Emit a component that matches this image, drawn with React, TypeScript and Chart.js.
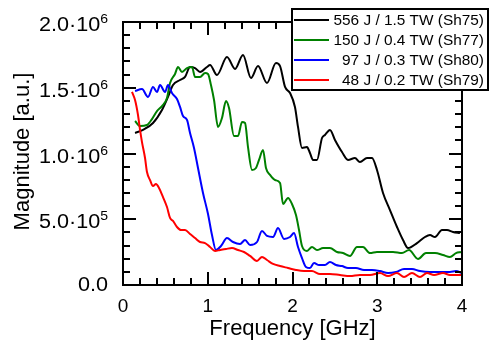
import React, { useEffect, useRef } from "react";
import { Chart, registerables } from "chart.js";

Chart.register(...registerables);

// ---- Data (magnitude in units of 10^6 a.u., frequency in GHz) ----
const sh75Freq = [0.142, 0.236, 0.354, 0.46, 0.531, 0.59, 0.673, 0.732, 0.791, 0.85, 0.909, 0.991, 1.027, 1.109, 1.227, 1.322, 1.416, 1.51, 1.593, 1.699, 1.805, 1.853, 1.912, 1.971, 2.029, 2.065, 2.112, 2.171, 2.206, 2.242, 2.289, 2.348, 2.383, 2.442, 2.501, 2.584, 2.655, 2.737, 2.796, 2.879, 2.938, 2.997, 3.068, 3.15, 3.233, 3.304, 3.363, 3.469, 3.563, 3.622, 3.681, 3.764, 3.823, 3.894, 3.976];
const sh75Mag = [1.156, 1.179, 1.232, 1.331, 1.43, 1.521, 1.559, 1.582, 1.658, 1.65, 1.62, 1.658, 1.673, 1.597, 1.734, 1.643, 1.749, 1.574, 1.665, 1.536, 1.688, 1.665, 1.506, 1.46, 1.354, 1.202, 1.042, 1.049, 1.004, 0.951, 0.951, 1.118, 1.141, 1.179, 1.103, 1.011, 0.951, 0.966, 0.935, 0.966, 0.966, 0.875, 0.7, 0.57, 0.441, 0.342, 0.281, 0.319, 0.365, 0.38, 0.365, 0.418, 0.418, 0.403, 0.395];

const sh77Freq = [0.142, 0.201, 0.283, 0.342, 0.401, 0.46, 0.519, 0.555, 0.614, 0.649, 0.696, 0.755, 0.814, 0.85, 0.909, 0.968, 1.003, 1.038, 1.074, 1.121, 1.168, 1.215, 1.251, 1.31, 1.357, 1.404, 1.44, 1.475, 1.522, 1.569, 1.605, 1.652, 1.687, 1.735, 1.794, 1.853, 1.888, 1.947, 1.994, 2.041, 2.077, 2.112, 2.171, 2.23, 2.289, 2.36, 2.442, 2.525, 2.596, 2.678, 2.761, 2.832, 2.914, 2.997, 3.091, 3.186, 3.292, 3.375, 3.481, 3.575, 3.681, 3.776, 3.858, 3.929, 3.988];
const sh77Mag = [1.247, 1.209, 1.217, 1.262, 1.323, 1.361, 1.422, 1.536, 1.605, 1.658, 1.62, 1.65, 1.658, 1.582, 1.582, 1.612, 1.605, 1.521, 1.407, 1.202, 1.27, 1.399, 1.346, 1.133, 1.133, 1.24, 1.232, 1.049, 0.875, 0.89, 0.951, 1.027, 0.89, 0.837, 0.798, 0.776, 0.616, 0.662, 0.616, 0.532, 0.418, 0.297, 0.259, 0.289, 0.266, 0.281, 0.281, 0.251, 0.243, 0.221, 0.289, 0.289, 0.243, 0.251, 0.251, 0.251, 0.243, 0.266, 0.198, 0.243, 0.243, 0.228, 0.213, 0.243, 0.251];

const sh80Freq = [0.142, 0.224, 0.295, 0.354, 0.401, 0.437, 0.496, 0.531, 0.578, 0.637, 0.673, 0.708, 0.755, 0.791, 0.838, 0.885, 0.944, 1.003, 1.05, 1.097, 1.156, 1.227, 1.298, 1.381, 1.44, 1.499, 1.581, 1.64, 1.699, 1.77, 1.829, 1.9, 1.971, 2.018, 2.065, 2.112, 2.159, 2.206, 2.254, 2.313, 2.383, 2.442, 2.513, 2.584, 2.655, 2.749, 2.844, 2.938, 3.032, 3.127, 3.221, 3.316, 3.41, 3.504, 3.622, 3.74, 3.858, 3.929, 4.0];
const sh80Mag = [1.475, 1.49, 1.43, 1.506, 1.468, 1.521, 1.468, 1.521, 1.46, 1.414, 1.354, 1.285, 1.255, 1.156, 1.042, 0.89, 0.7, 0.54, 0.38, 0.266, 0.297, 0.357, 0.327, 0.312, 0.342, 0.304, 0.327, 0.411, 0.373, 0.365, 0.433, 0.35, 0.365, 0.395, 0.289, 0.205, 0.137, 0.129, 0.167, 0.152, 0.152, 0.175, 0.152, 0.144, 0.129, 0.129, 0.114, 0.114, 0.106, 0.091, 0.099, 0.122, 0.122, 0.106, 0.099, 0.099, 0.099, 0.106, 0.091];

const sh79Freq = [0.106, 0.142, 0.177, 0.201, 0.224, 0.26, 0.283, 0.319, 0.354, 0.389, 0.425, 0.472, 0.519, 0.555, 0.59, 0.637, 0.684, 0.732, 0.791, 0.85, 0.909, 0.968, 1.027, 1.086, 1.145, 1.215, 1.286, 1.357, 1.428, 1.499, 1.581, 1.64, 1.699, 1.77, 1.853, 1.947, 2.041, 2.136, 2.23, 2.324, 2.442, 2.56, 2.678, 2.796, 2.914, 3.032, 3.127, 3.233, 3.316, 3.41, 3.504, 3.587, 3.67, 3.776, 3.858, 4.0];
const sh79Mag = [1.468, 1.407, 1.293, 1.179, 1.087, 0.966, 0.859, 0.798, 0.753, 0.768, 0.738, 0.669, 0.593, 0.51, 0.487, 0.441, 0.418, 0.418, 0.388, 0.357, 0.327, 0.319, 0.289, 0.259, 0.266, 0.274, 0.281, 0.266, 0.251, 0.221, 0.183, 0.213, 0.19, 0.16, 0.144, 0.129, 0.114, 0.106, 0.106, 0.084, 0.084, 0.076, 0.068, 0.076, 0.076, 0.091, 0.068, 0.091, 0.061, 0.091, 0.061, 0.091, 0.076, 0.091, 0.076, 0.076];

const legendLabels = [
  "556 J / 1.5 TW (Sh75)",
  "150 J / 0.4 TW (Sh77)",
  "97 J / 0.3 TW (Sh80)",
  "48 J / 0.2 TW (Sh79)",
];
const seriesColors = ["#000000", "#008000", "#0000ff", "#ff0000"];

const xTickValues = [0, 1, 2, 3, 4];
const xTickLabels = ["0", "1", "2", "3", "4"];
const yTickValues = [0, 0.5, 1, 1.5, 2];
const yTickMantissa = ["0.0", "5.0·10", "1.0·10", "1.5·10", "2.0·10"];
const yTickExponent = ["", "5", "6", "6", "6"];

const xTitle = "Frequency [GHz]";
const yTitle = "Magnitude [a.u.]";

const FONT = '"Liberation Sans", Arial, sans-serif';

const decorPlugin = {
  id: "decor",
  afterDraw(chart: any) {
    const ctx = chart.ctx as CanvasRenderingContext2D;
    const a = chart.chartArea;
    const xs = chart.scales.x;
    const ys = chart.scales.y;
    ctx.save();
    ctx.strokeStyle = "#000";
    ctx.fillStyle = "#000";
    ctx.lineWidth = 2;
    ctx.lineCap = "butt";

    // Inward ticks on all four sides
    const yMinor = 20;
    for (let i = 0; i <= yMinor; i++) {
      const v = (2 * i) / yMinor;
      const py = Math.round(ys.getPixelForValue(v));
      const len = i % 5 === 0 ? 13 : 7;
      ctx.beginPath();
      ctx.moveTo(a.left, py);
      ctx.lineTo(a.left + len, py);
      ctx.moveTo(a.right, py);
      ctx.lineTo(a.right - len, py);
      ctx.stroke();
    }
    const xMinor = 20;
    for (let i = 0; i <= xMinor; i++) {
      const v = (4 * i) / xMinor;
      const px = Math.round(xs.getPixelForValue(v));
      const len = i % 5 === 0 ? 13 : 7;
      ctx.beginPath();
      ctx.moveTo(px, a.bottom);
      ctx.lineTo(px, a.bottom - len);
      ctx.moveTo(px, a.top);
      ctx.lineTo(px, a.top + len);
      ctx.stroke();
    }
    // Frame
    ctx.strokeRect(a.left, a.top, a.right - a.left, a.bottom - a.top);

    // X tick labels
    ctx.font = `19px ${FONT}`;
    ctx.textAlign = "center";
    ctx.textBaseline = "alphabetic";
    xTickValues.forEach((v, i) => {
      ctx.fillText(xTickLabels[i], xs.getPixelForValue(v), a.bottom + 27);
    });

    // Y tick labels with superscript exponent
    const rightEdge = a.left - 15;
    const sx = 1.08;
    yTickValues.forEach((v, i) => {
      const py = ys.getPixelForValue(v);
      const exp = yTickExponent[i];
      ctx.save();
      ctx.translate(rightEdge, 0);
      ctx.scale(sx, 1);
      ctx.textAlign = "right";
      if (!exp) {
        ctx.font = `20px ${FONT}`;
        ctx.fillText(yTickMantissa[i], 0, py + 6);
      } else {
        ctx.font = `13px ${FONT}`;
        const ew = ctx.measureText(exp).width;
        ctx.fillText(exp, 0, py + 1);
        ctx.font = `20px ${FONT}`;
        ctx.fillText(yTickMantissa[i], -ew, py + 9);
      }
      ctx.restore();
    });

    // Axis titles
    ctx.font = `22px ${FONT}`;
    ctx.textAlign = "center";
    ctx.fillText(xTitle, (a.left + a.right) / 2, a.bottom + 50);
    ctx.save();
    ctx.translate(29, (a.top + a.bottom) / 2 - 2);
    ctx.rotate(-Math.PI / 2);
    ctx.fillText(yTitle, 0, 0);
    ctx.restore();

    // Legend box
    const bx = 292, by = 9, bw = 196, bh = 81;
    ctx.fillStyle = "#fff";
    ctx.fillRect(bx, by, bw, bh);
    ctx.strokeStyle = "#000";
    ctx.lineWidth = 2;
    ctx.strokeRect(bx, by, bw, bh);
    ctx.font = `15.4px ${FONT}`;
    ctx.textAlign = "right";
    ctx.textBaseline = "middle";
    legendLabels.forEach((lab, i) => {
      const ry = by + 11 + i * 20;
      ctx.strokeStyle = seriesColors[i];
      ctx.lineWidth = 2;
      ctx.beginPath();
      ctx.moveTo(bx + 2, ry);
      ctx.lineTo(bx + 37, ry);
      ctx.stroke();
      ctx.fillStyle = "#000";
      ctx.fillText(lab, bx + bw - 4, ry + 1);
    });
    ctx.restore();
  },
};

export default function App() {
  const ref = useRef<HTMLCanvasElement | null>(null);
  useEffect(() => {
    document.body.style.margin = "0";
    const canvas = ref.current;
    if (!canvas) return;
    const series = [
      { f: sh75Freq, m: sh75Mag },
      { f: sh77Freq, m: sh77Mag },
      { f: sh80Freq, m: sh80Mag },
      { f: sh79Freq, m: sh79Mag },
    ];
    const chart = new Chart(canvas, {
      type: "line",
      data: {
        datasets: series.map((s, i) => ({
          label: legendLabels[i],
          data: s.f.map((x, j) => ({ x, y: s.m[j] })),
          borderColor: seriesColors[i],
          borderWidth: 2,
          pointRadius: 0,
          fill: false,
          tension: 0.35,
          cubicInterpolationMode: "monotone" as const,
          order: 4 - i,
        })),
      },
      options: {
        responsive: false,
        animation: false,
        devicePixelRatio: 1,
        layout: { padding: { left: 0, top: 22, right: 28, bottom: 0 } },
        plugins: { legend: { display: false }, tooltip: { enabled: false } },
        scales: {
          x: {
            type: "linear",
            min: 0,
            max: 4,
            ticks: { display: false, stepSize: 1 },
            grid: { display: false },
            border: { display: false },
            afterFit: (s: any) => {
              s.height = 59;
            },
          },
          y: {
            type: "linear",
            min: 0,
            max: 2,
            ticks: { display: false, stepSize: 0.5 },
            grid: { display: false },
            border: { display: false },
            afterFit: (s: any) => {
              s.width = 123;
            },
          },
        },
      },
      plugins: [decorPlugin],
    });
    return () => chart.destroy();
  }, []);
  return (
    <div style={{ width: 490, height: 344 }}>
      <canvas ref={ref} width={490} height={344} style={{ display: "block", width: 490, height: 344 }} />
    </div>
  );
}
